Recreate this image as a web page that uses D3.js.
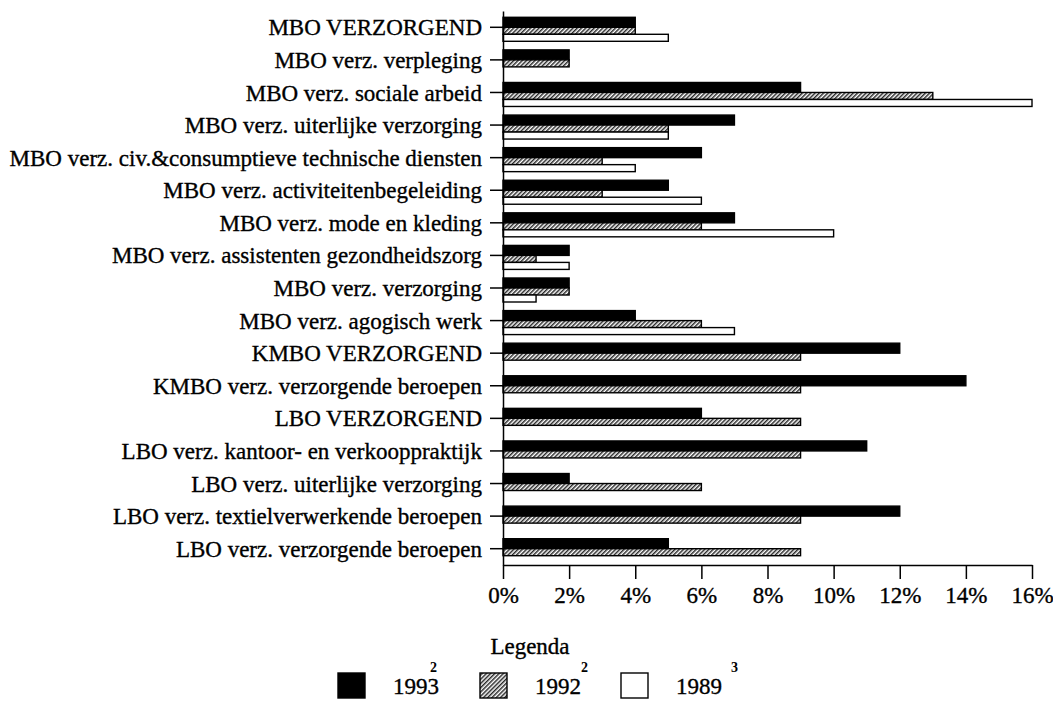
<!DOCTYPE html>
<html>
<head>
<meta charset="utf-8">
<script src="https://cdn.jsdelivr.net/npm/d3@7"></script>
<style>
  body { margin: 0; background: #fff; }
</style>
</head>
<body>
<div id="chart"></div>
<script>
// categories top to bottom, values in percent per year (null = no bar)
const categories = [
  "MBO VERZORGEND",
  "MBO verz. verpleging",
  "MBO verz. sociale arbeid",
  "MBO verz. uiterlijke verzorging",
  "MBO verz. civ.&consumptieve technische diensten",
  "MBO verz. activiteitenbegeleiding",
  "MBO verz. mode en kleding",
  "MBO verz. assistenten gezondheidszorg",
  "MBO verz. verzorging",
  "MBO verz. agogisch werk",
  "KMBO VERZORGEND",
  "KMBO verz. verzorgende beroepen",
  "LBO VERZORGEND",
  "LBO verz. kantoor- en verkooppraktijk",
  "LBO verz. uiterlijke verzorging",
  "LBO verz. textielverwerkende beroepen",
  "LBO verz. verzorgende beroepen"
];
const years = ["1993", "1992", "1989"];
const yearSup = ["2", "2", "3"];
const v1993 = [4, 2, 9, 7, 6, 5, 7, 2, 2, 4, 12, 14, 6, 11, 2, 12, 5];
const v1992 = [4, 2, 13, 5, 3, 3, 6, 1, 2, 6, 9, 9, 9, 9, 6, 9, 9];
const v1989 = [5, null, 16, 5, 4, 6, 10, 2, 1, 7, null, null, null, null, null, null, null];
const xTicks = [0, 2, 4, 6, 8, 10, 12, 14, 16];

const FONT = "'Liberation Serif', 'Times New Roman', Times, serif";
const W = 1053, H = 701;
const svg = d3.select("#chart").append("svg")
  .attr("width", W).attr("height", H)
  .attr("font-family", FONT);

// hatch fill for 1992
const defs = svg.append("defs");
const pat = defs.append("pattern")
  .attr("id", "hatch")
  .attr("patternUnits", "userSpaceOnUse")
  .attr("width", 3).attr("height", 3)
  .attr("patternTransform", "rotate(45)");
pat.append("rect").attr("width", 3).attr("height", 3).attr("fill", "#fff");
pat.append("rect").attr("width", 1.5).attr("height", 3).attr("fill", "#2a2a2a");

const fills = { "1993": "#000", "1992": "url(#hatch)", "1989": "#fff" };
// bar offset/height relative to the category tick (style, not data)
const barPos = { "1993": [-10, 10], "1992": [0, 7], "1989": [7, 7] };

const x = d3.scaleLinear().domain([0, 16]).range([503, 1032]);
const y = d3.scaleBand().domain(categories).range([11, 565]);

const rows = categories.map((c, i) => ({
  cat: c,
  vals: [
    { year: "1993", v: v1993[i] },
    { year: "1992", v: v1992[i] },
    { year: "1989", v: v1989[i] }
  ].filter(d => d.v != null)
}));

const g = svg.append("g");
const grp = g.selectAll("g.cat")
  .data(rows)
  .enter().append("g")
  .attr("class", "cat")
  .attr("transform", d => `translate(0, ${y(d.cat) + y.bandwidth() / 2})`);

grp.selectAll("rect")
  .data(d => d.vals)
  .enter().append("rect")
  .attr("x", x(0))
  .attr("y", d => barPos[d.year][0])
  .attr("width", d => x(d.v) - x(0))
  .attr("height", d => barPos[d.year][1])
  .attr("fill", d => fills[d.year])
  .attr("stroke", "#000")
  .attr("stroke-width", 1.4);

// axes
const yAxis = g.append("g")
  .attr("transform", `translate(${x(0)},0)`)
  .call(d3.axisLeft(y).tickSize(13).tickSizeOuter(0).tickPadding(8));

const xAxis = g.append("g")
  .attr("transform", `translate(0,565)`)
  .call(d3.axisBottom(x).tickValues(xTicks).tickFormat(d => d + "%")
    .tickSize(14).tickSizeOuter(0).tickPadding(8));

// scanned print looks a bit heavier, thin stroke on text
svg.selectAll(".tick text")
  .style("font-family", FONT)
  .style("font-size", "23px")
  .attr("fill", "#000")
  .attr("stroke", "#000")
  .attr("stroke-width", 0.35);
yAxis.selectAll("text").attr("dy", "0.35em");

svg.selectAll(".domain, .tick line").attr("stroke", "#000").attr("stroke-width", 1.5);

// legend
svg.append("text")
  .attr("x", 530).attr("y", 654)
  .attr("text-anchor", "middle")
  .style("font-family", FONT)
  .style("font-size", "23px")
  .attr("stroke", "#000").attr("stroke-width", 0.35)
  .text("Legenda");

const legX = [338, 480, 621];
const supDx = [-7, 2, 11];
const leg = svg.append("g").selectAll("g")
  .data(years)
  .enter().append("g")
  .attr("transform", (d, i) => `translate(${legX[i]}, 0)`);

leg.append("rect")
  .attr("x", 0).attr("y", 673)
  .attr("width", 27).attr("height", 25)
  .attr("fill", d => fills[d])
  .attr("stroke", "#000")
  .attr("stroke-width", 1.4);

leg.append("text")
  .attr("x", 55).attr("y", 694)
  .style("font-family", FONT)
  .style("font-size", "23px")
  .attr("stroke", "#000").attr("stroke-width", 0.35)
  .text(d => d);

leg.append("text")
  .attr("x", (d, i) => 55 + 44 + supDx[i]).attr("y", 672)
  .style("font-family", FONT)
  .style("font-size", "14px")
  .style("font-weight", "bold")
  .text((d, i) => yearSup[i]);
</script>
</body>
</html>
